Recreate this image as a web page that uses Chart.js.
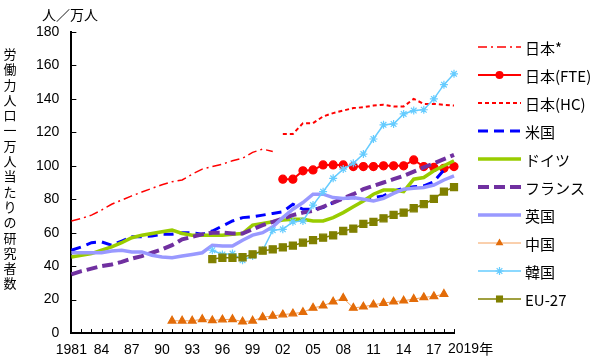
<!DOCTYPE html>
<html>
<head>
<meta charset="utf-8">
<script src="https://cdn.jsdelivr.net/npm/chart.js"></script>
<style>
  body { margin: 0; background: #fff; }
  canvas { display: block; }
</style>
</head>
<body>
<canvas id="chart" width="600" height="363"></canvas>
<script>
// years on the x axis
const years = [1981, 1982, 1983, 1984, 1985, 1986, 1987, 1988, 1989, 1990,
  1991, 1992, 1993, 1994, 1995, 1996, 1997, 1998, 1999, 2000,
  2001, 2002, 2003, 2004, 2005, 2006, 2007, 2008, 2009, 2010,
  2011, 2012, 2013, 2014, 2015, 2016, 2017, 2018, 2019];

const japanStar = [67, 68.5, 70.5, 73.5, 77, 79.5, 82, 84.3, 86.5, 88.7,
  90.5, 91.5, 95, 98, 99.5, 101, 103, 104.5, 108, 110,
  108.5, null, null, null, null, null, null, null, null, null,
  null, null, null, null, null, null, null, null, null];

const japanFTE = [null, null, null, null, null, null, null, null, null, null,
  null, null, null, null, null, null, null, null, null, null,
  null, 92, 92, 97, 97.5, 100.5, 100.5, 100.5, 99.5, 99.5,
  99.5, 100, 100, 100, 103.5, 99.5, 99, 98.5, 99.5];

const japanHC = [null, null, null, null, null, null, null, null, null, null,
  null, null, null, null, null, null, null, null, null, null,
  null, 119, 119, 125.5, 125.5, 129.5, 131.5, 133, 134.5, 135,
  136, 136.5, 135.5, 135.5, 140, 137, 137, 136.5, 136];

const usa = [49.5, 51.5, 54, 54.5, 52.5, 55, 57.5, 57.5, 58, 59,
  59, 60, 60, 59, 61, 64, 67, 69, 69.5, 70.5,
  71.5, 72.5, 77, 74, 74, 75, 78, 80.5, 81, 79.5,
  81, 82, 85, 86.5, 87.5, 88, 90.5, 97.5, null];

const germany = [45.5, 46.5, 47.5, 49.5, 51.5, 54, 57, 58.5, 59.5, 60.5,
  61.5, 59.5, 58.5, 58.5, 58.5, 58.5, 59, 59.5, 64.5, 65.5,
  66.5, 67.5, 68, 68, 67, 67, 69, 72, 75.5, 79,
  83, 85.5, 85.5, 84.5, 92, 93, 97, 100, 103];

const france = [35, 37, 38.5, 40, 41, 42.5, 44.5, 46, 48, 50,
  52.5, 56, 57.5, 59, 60, 60, 59.5, 59.5, 62, 64.5,
  66.5, 68.5, 70.5, 72, 73, 75.5, 78, 80.5, 83, 86,
  88, 90, 92, 94, 96.5, 99, 101.5, 104, 106.5];

const uk = [48, 48, 48, 48, 49, 49.5, 48.5, 48.5, 46.5, 45.5,
  45, 46, 47, 48, 52.5, 52, 52, 55.5, 58.5, 60,
  63.5, 69, 74, 78, 83, 83, 81, 80.5, 81, 80,
  79, 80.5, 83.5, 86, 86.5, 87, 88.5, 91.5, 94];

const china = [null, null, null, null, null, null, null, null, null, null,
  7.3, 7.3, 7.3, 8.2, 7.5, 8, 8.2, 6.8, 7.3, 9.4,
  10.2, 11, 11.6, 12.4, 15, 16.3, 18.7, 20.9, 15, 15.7,
  16.9, 17.9, 18.7, 19.3, 20.3, 21.3, 21.9, 23.3, null];

const korea = [null, null, null, null, null, null, null, null, null, null,
  null, null, null, null, 49.5, 47, 47.5, 43.5, 46, 49.5,
  61.5, 62, 66.5, 67, 76.5, 84.5, 92.5, 98, 101.5, 107,
  116, 124.5, 125, 131, 133, 133.5, 140, 148.5, 155];

const eu27 = [null, null, null, null, null, null, null, null, null, null,
  null, null, null, null, 44.2, 45, 45, 45.3, 47, 49.2,
  50, 51.2, 52.3, 54, 55.6, 57, 58.4, 61, 62.4, 65.2,
  66.4, 68.6, 70.6, 72, 74.6, 77, 80.2, 84.6, 87.2];

const yTitle = '労働力人口一万人当たりの研究者数';
const unitLabel = '人／万人';
const lastLabel = '2019年';

const numFont = '"Liberation Sans", Arial, sans-serif';
const jpFont = '"Noto Sans CJK JP", sans-serif';

function line(label, data, color, width, dash, pointStyle, radius, pointColor) {
  return {
    label: label,
    data: data,
    borderColor: color,
    borderWidth: width,
    borderDash: dash,
    pointStyle: pointStyle || 'circle',
    pointRadius: radius || 0,
    pointHoverRadius: radius || 0,
    pointBackgroundColor: pointColor || color,
    pointBorderColor: pointColor || color,
    pointBorderWidth: 1.2,
    fill: false,
    tension: 0
  };
}

const datasets = [
  line('日本*', japanStar, '#FF0000', 1.5, [9, 4, 2, 4]),
  line('日本(FTE)', japanFTE, '#FF0000', 2, [], 'circle', 4),
  line('日本(HC)', japanHC, '#FF0000', 2, [4, 3]),
  line('米国', usa, '#0000FF', 3, [10, 6]),
  line('ドイツ', germany, '#99CC00', 3.5, []),
  line('フランス', france, '#7030A0', 4, [11, 5]),
  line('英国', uk, '#9999FF', 3.5, []),
  line('中国', china, '#F5A05A', 1, [], 'triangle', 4.5, '#E36C09'),
  line('韓国', korea, '#66CCFF', 1.5, [], 'star', 4, '#66CCFF'),
  line('EU-27', eu27, '#808000', 1.5, [], 'rect', 5, '#808000')
];
// later series drawn on top
datasets.forEach(function (ds, i) { ds.order = datasets.length - i; });

function marker(ctx, style, x, y, r, color) {
  ctx.save();
  ctx.setLineDash([]);
  ctx.fillStyle = color;
  ctx.strokeStyle = color;
  ctx.lineWidth = 1.2;
  ctx.beginPath();
  if (style === 'circle') {
    ctx.arc(x, y, r, 0, Math.PI * 2);
    ctx.fill();
  } else if (style === 'triangle') {
    ctx.moveTo(x, y - r);
    ctx.lineTo(x + r * 0.866, y + r * 0.5);
    ctx.lineTo(x - r * 0.866, y + r * 0.5);
    ctx.closePath();
    ctx.fill();
  } else if (style === 'rect') {
    let s = r * Math.SQRT1_2;
    ctx.rect(x - s, y - s, 2 * s, 2 * s);
    ctx.fill();
  } else if (style === 'star') {
    ctx.moveTo(x, y - r); ctx.lineTo(x, y + r);
    ctx.moveTo(x - r, y); ctx.lineTo(x + r, y);
    let d = r * Math.SQRT1_2;
    ctx.moveTo(x - d, y - d); ctx.lineTo(x + d, y + d);
    ctx.moveTo(x - d, y + d); ctx.lineTo(x + d, y - d);
    ctx.stroke();
  }
  ctx.restore();
}

const decorations = {
  id: 'decorations',
  afterDraw: function (chart) {
    const ctx = chart.ctx;
    const area = chart.chartArea;
    const xs = chart.scales.x;
    const ys = chart.scales.y;
    ctx.save();

    // inside tick marks
    ctx.strokeStyle = '#000';
    ctx.lineWidth = 1;
    ctx.beginPath();
    years.forEach(function (yr, i) {
      let x = Math.round(xs.getPixelForValue(i)) + 0.5;
      ctx.moveTo(x, area.bottom);
      ctx.lineTo(x, area.bottom - 4);
    });
    for (let v = 0; v <= 180; v += 20) {
      let y = Math.round(ys.getPixelForValue(v)) + 0.5;
      ctx.moveTo(area.left, y);
      ctx.lineTo(area.left + 5, y);
    }
    ctx.stroke();

    ctx.fillStyle = '#000';
    // last x label
    ctx.font = '14px ' + numFont;
    ctx.textAlign = 'left';
    ctx.textBaseline = 'middle';
    let xLast = xs.getPixelForValue(years.length - 1) - 6;
    let yLab = area.bottom + 16;
    ctx.fillText('2019', xLast, yLab);
    let w = ctx.measureText('2019').width;
    ctx.font = '14px ' + jpFont;
    ctx.fillText('年', xLast + w, yLab);

    // unit label
    ctx.font = '14px ' + jpFont;
    ctx.textAlign = 'center';
    ctx.fillText(unitLabel, 70, 15);

    // vertical y title
    ctx.font = '13px ' + jpFont;
    for (let i = 0; i < yTitle.length; i++) {
      ctx.fillText(yTitle[i], 10, 54 + i * 15.3);
    }

    // legend
    chart.data.datasets.forEach(function (ds, i) {
      let y = 47 + i * 28;
      ctx.save();
      ctx.strokeStyle = ds.borderColor;
      ctx.lineWidth = ds.borderWidth;
      ctx.setLineDash(ds.borderDash || []);
      ctx.beginPath();
      ctx.moveTo(478, y);
      ctx.lineTo(521, y);
      ctx.stroke();
      ctx.restore();
      if (ds.pointRadius > 0) {
        marker(ctx, ds.pointStyle, 499.5, y, ds.pointRadius, ds.pointBackgroundColor);
      }
      ctx.font = '15px ' + jpFont;
      ctx.textAlign = 'left';
      ctx.textBaseline = 'middle';
      ctx.fillStyle = '#000';
      ctx.fillText(ds.label, 525, y + 1);
    });
    ctx.restore();
  }
};

const ctx = document.getElementById('chart').getContext('2d');
const chart = new Chart(ctx, {
  type: 'line',
  data: { labels: years, datasets: datasets },
  plugins: [decorations],
  options: {
    responsive: false,
    animation: false,
    devicePixelRatio: 1,
    layout: { padding: { left: 24, top: 32, right: 146, bottom: 5 } },
    plugins: { legend: { display: false }, tooltip: { enabled: false } },
    scales: {
      x: {
        type: 'category',
        offset: false,
        grid: { display: false, drawTicks: false },
        border: { display: true, color: '#000', width: 2 },
        afterFit: function (scale) { scale.height = 25; },
        ticks: {
          autoSkip: false,
          maxRotation: 0,
          padding: 9,
          color: '#000',
          font: { size: 14, family: numFont },
          callback: function (val, idx) {
            let yr = years[idx];
            if (yr === 2019) return '';
            if ((yr - 1981) % 3 !== 0) return '';
            if (yr === 1981) return '1981';
            return String(yr % 100).padStart(2, '0');
          }
        }
      },
      y: {
        min: 0,
        max: 180,
        grid: { display: false, drawTicks: false },
        border: { display: true, color: '#000', width: 2 },
        ticks: {
          stepSize: 20,
          padding: 12,
          color: '#000',
          font: { size: 14, family: numFont }
        }
      }
    }
  }
});
</script>
</body>
</html>
